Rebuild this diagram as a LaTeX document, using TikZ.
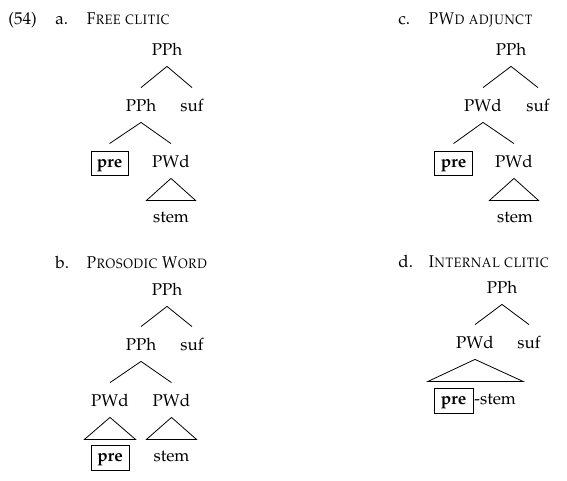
\documentclass[tikz,border=0pt]{standalone}
\usepackage[T1]{fontenc}
\usepackage{palatino}
\usepackage{graphicx}
\newcommand{\hdtitle}[1]{\scalebox{0.9}[1]{\textsc{#1}}}
\begin{document}
\begin{tikzpicture}[x=1pt,y=-1pt,
  font=\fontsize{17}{20}\selectfont,
  lab/.style={anchor=base, inner xsep=0pt, inner ysep=11pt, text height=12pt, text depth=0pt},
  head/.style={anchor=base west, inner sep=0pt},
  every path/.style={line width=0.8pt}]
\useasboundingbox (0,0) rectangle (567,480);

% ---------- (54) a. ----------
\node[head] (num) at (8,24) {(54)};
\node[head] (alab) at (55,24) {a.};
\node[head] (atit) at (86,24) {\hdtitle{Free clitic}};
\node[lab] (a1) at (167,55) {PPh};
\node[lab] (a2) at (141,111) {PPh};
\node[lab] (a3) at (192,111) {suf};
\node[lab] (a4) at (109.5,167) {\textbf{pre}};
\node[lab] (a5) at (171,167) {PWd};
\node[lab] (a6) at (171,222) {stem};
\draw (a1.south) -- (a2.north);
\draw (a1.south) -- (a3.north);
\draw (a2.south) -- (a4.north);
\draw (a2.south) -- (a5.north);
\draw (a5.south) -- ++(-24.5,22) -- ++(49,0) -- cycle;
\draw ([xshift=-18.5pt,yshift=16pt]a4.base) rectangle ([xshift=18.5pt,yshift=-8pt]a4.base);

% ---------- c. ----------
\node[head] (clab) at (398,24) {c.};
\node[head] (ctit) at (428,24) {\hdtitle{PWd adjunct}};
\node[lab] (c1) at (511,55) {PPh};
\node[lab] (c2) at (483,111) {PWd};
\node[lab] (c3) at (538,111) {suf};
\node[lab] (c4) at (453.5,167) {\textbf{pre}};
\node[lab] (c5) at (514,167) {PWd};
\node[lab] (c6) at (515,222) {stem};
\draw (c1.south) -- (c2.north);
\draw (c1.south) -- (c3.north);
\draw (c2.south) -- (c4.north);
\draw (c2.south) -- (c5.north);
\draw (c5.south) -- ++(-24.5,22) -- ++(49,0) -- cycle;
\draw ([xshift=-19pt,yshift=16pt]c4.base) rectangle ([xshift=19pt,yshift=-8pt]c4.base);

% ---------- b. ----------
\node[head] (blab) at (55,268) {b.};
\node[head] (btit) at (86,268) {\hdtitle{Prosodic Word}};
\node[lab] (b1) at (167,295) {PPh};
\node[lab] (b2) at (141,350) {PPh};
\node[lab] (b3) at (192,350) {suf};
\node[lab] (b4) at (110,406) {PWd};
\node[lab] (b5) at (171.5,406) {PWd};
\node[lab] (b6) at (110,461) {\textbf{pre}};
\node[lab] (b7) at (171.5,461) {stem};
\draw (b1.south) -- (b2.north);
\draw (b1.south) -- (b3.north);
\draw (b2.south) -- (b4.north);
\draw (b2.south) -- (b5.north);
\draw (b4.south) -- ++(-25.5,22) -- ++(51,0) -- cycle;
\draw (b5.south) -- ++(-25,22) -- ++(50,0) -- cycle;
\draw ([xshift=-19pt,yshift=16pt]b6.base) rectangle ([xshift=19pt,yshift=-9pt]b6.base);

% ---------- d. ----------
\node[head] (dlab) at (398,267) {d.};
\node[head] (dtit) at (428,267) {\hdtitle{Internal clitic}};
\node[lab] (d1) at (502,293) {PPh};
\node[lab] (d2) at (475,348) {PWd};
\node[lab] (d3) at (529,348) {suf};
\node[lab] (d4) at (453.5,404) {\textbf{pre}};
\node[head] (d5) at (474,404) {-stem};
\draw (d1.south) -- (d2.north);
\draw (d1.south) -- (d3.north);
\draw (d2.south) -- ++(-47,22) -- ++(95,0) -- cycle;
\draw ([xshift=-19.5pt,yshift=16pt]d4.base) rectangle ([xshift=19.5pt,yshift=-9pt]d4.base);
\end{tikzpicture}
\end{document}
